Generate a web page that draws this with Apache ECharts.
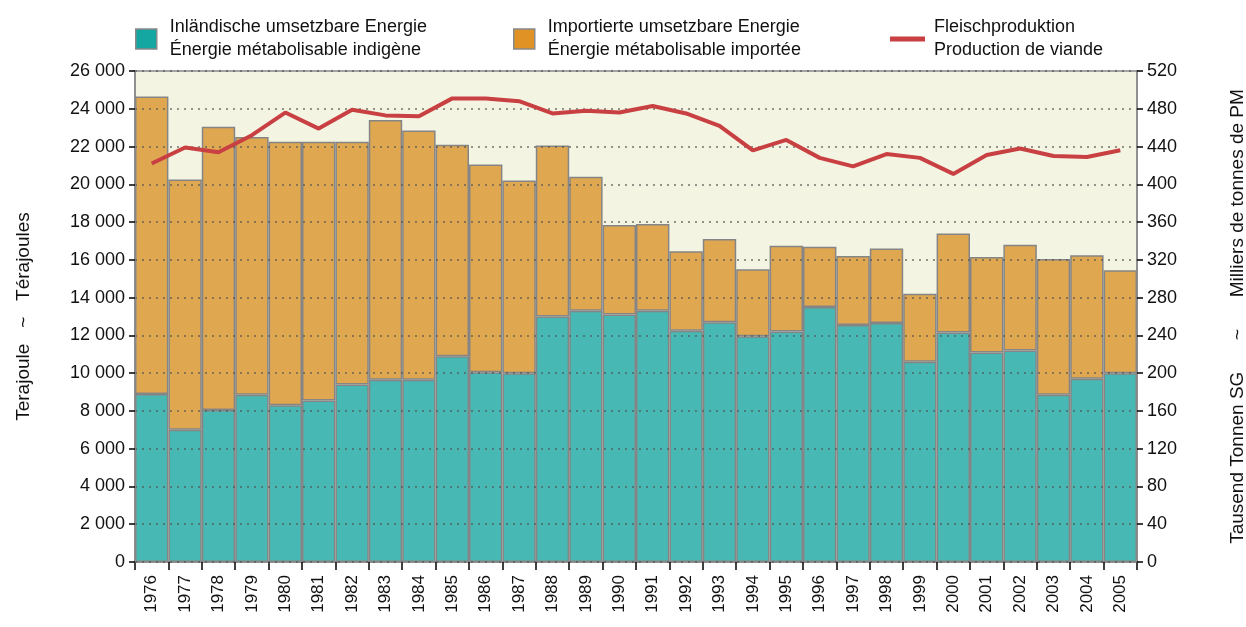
<!DOCTYPE html>
<html>
<head>
<meta charset="utf-8">
<script src="https://cdn.jsdelivr.net/npm/echarts@6/dist/echarts.min.js"></script>
<style>
  html, body { margin: 0; padding: 0; background: #ffffff; }
  #main { width: 1246px; height: 627px; }
</style>
</head>
<body>
<div id="main"></div>
<script>
// Jahre / années
var years = ['1976', '1977', '1978', '1979', '1980', '1981', '1982', '1983', '1984', '1985',
  '1986', '1987', '1988', '1989', '1990', '1991', '1992', '1993', '1994', '1995',
  '1996', '1997', '1998', '1999', '2000', '2001', '2002', '2003', '2004', '2005'];

// inländische umsetzbare Energie (TJ)
var inland = [8900, 7000, 8050, 8850, 8300, 8550, 9400, 9650, 9650, 10900,
  10050, 10000, 13000, 13300, 13100, 13300, 12250, 12700, 11950, 12200,
  13500, 12550, 12650, 10600, 12150, 11100, 11200, 8850, 9700, 10000];

// importierte umsetzbare Energie (TJ)
var imported = [15750, 13250, 15000, 13650, 13950, 13700, 12850, 13750, 13200, 11200,
  11000, 10200, 9050, 7100, 4750, 4600, 4200, 4400, 3550, 4550,
  3200, 3650, 3950, 3600, 5250, 5050, 5600, 7200, 6550, 5450];

// Fleischproduktion (1000 t SG)
var meat = [422, 439, 434, 452, 476, 459, 479, 473, 472, 491,
  491, 488, 475, 478, 476, 483, 475, 462, 436, 447,
  428, 419, 432, 428, 411, 431, 438, 430, 429, 436];

var nameInland = 'Inländische umsetzbare Energie\nÉnergie métabolisable indigène';
var nameImport = 'Importierte umsetzbare Energie\nÉnergie métabolisable importée';
var nameMeat = 'Fleischproduktion\nProduction de viande';

var FONT = '"Liberation Sans", Arial, sans-serif';

function fmtThousand(v) {
  if (v >= 1000) {
    var rest = String(v % 1000);
    while (rest.length < 3) rest = '0' + rest;
    return Math.floor(v / 1000) + ' ' + rest;
  }
  return String(v);
}

function legendText(padLeft) {
  return { fontFamily: FONT, fontSize: 18, color: '#111', lineHeight: 23, padding: [0, 0, 0, padLeft] };
}

var myChart = echarts.init(document.getElementById('main'));
var option = {
  backgroundColor: '#ffffff',
  animation: false,
  legend: [
    {
      left: 130, top: 11, itemWidth: 21, itemHeight: 20, itemGap: 10, icon: 'rect',
      textStyle: legendText(8),
      data: [{ name: nameInland, itemStyle: { color: '#14a6a0', borderColor: '#888', borderWidth: 1.5 } }]
    },
    {
      left: 508, top: 11, itemWidth: 21, itemHeight: 20, itemGap: 10, icon: 'rect',
      textStyle: legendText(8),
      data: [{ name: nameImport, itemStyle: { color: '#e09224', borderColor: '#888', borderWidth: 1.5 } }]
    },
    {
      left: 885, top: 11, itemWidth: 35, itemHeight: 5, itemGap: 10, icon: 'rect',
      textStyle: legendText(4),
      data: [{ name: nameMeat, itemStyle: { color: '#c84042', borderWidth: 0 } }]
    }
  ],
  grid: {
    left: 135, right: 109, top: 71, bottom: 65,
    outerBoundsMode: 'none',
    show: true, backgroundColor: '#f4f4e3', borderColor: '#888', borderWidth: 1.5
  },
  xAxis: {
    type: 'category',
    data: years,
    boundaryGap: true,
    axisLine: { show: true, lineStyle: { color: '#888', width: 1.5 } },
    axisTick: { show: true, length: 8, lineStyle: { color: '#000', width: 1.5 } },
    axisLabel: { rotate: 90, margin: 13, fontFamily: FONT, fontSize: 17, color: '#111' }
  },
  yAxis: [
    {
      type: 'value', min: 0, max: 26000, interval: 2000, z: 3,
      name: 'Terajoule   ~   Térajoules',
      nameLocation: 'middle', nameGap: 102, nameRotate: 90,
      nameTextStyle: { fontFamily: FONT, fontSize: 19, color: '#111' },
      axisLine: { show: true, lineStyle: { color: '#888', width: 1.5 } },
      axisTick: { show: true, length: 6, lineStyle: { color: '#000', width: 1.5 } },
      axisLabel: { margin: 10, fontFamily: FONT, fontSize: 18, color: '#111', formatter: fmtThousand },
      splitLine: { show: true, lineStyle: { color: 'rgba(80,80,80,0.6)', width: 2, type: [2, 5] } }
    },
    {
      type: 'value', min: 0, max: 520, interval: 40, position: 'right', z: 3,
      name: 'Tausend Tonnen SG      ~      Milliers de tonnes de PM',
      nameLocation: 'middle', nameGap: 91, nameRotate: 90,
      nameTextStyle: { fontFamily: FONT, fontSize: 19, color: '#111' },
      axisLine: { show: true, lineStyle: { color: '#888', width: 1.5 } },
      axisTick: { show: true, length: 6, lineStyle: { color: '#000', width: 1.5 } },
      axisLabel: { margin: 10, fontFamily: FONT, fontSize: 18, color: '#111' },
      splitLine: { show: false }
    }
  ],
  series: [
    {
      name: nameInland, type: 'bar', stack: 'energy', data: inland,
      barCategoryGap: 0, z: 2,
      itemStyle: { color: '#47b8b3', borderColor: '#858585', borderWidth: 1.5 }
    },
    {
      name: nameImport, type: 'bar', stack: 'energy', data: imported,
      barCategoryGap: 0, z: 2,
      itemStyle: { color: '#e0a751', borderColor: '#858585', borderWidth: 1.5 }
    },
    {
      name: nameMeat, type: 'line', yAxisIndex: 1, data: meat, z: 5,
      symbol: 'none',
      lineStyle: { color: '#c84042', width: 4 },
      itemStyle: { color: '#c84042' }
    }
  ]
};
myChart.setOption(option);
</script>
</body>
</html>
